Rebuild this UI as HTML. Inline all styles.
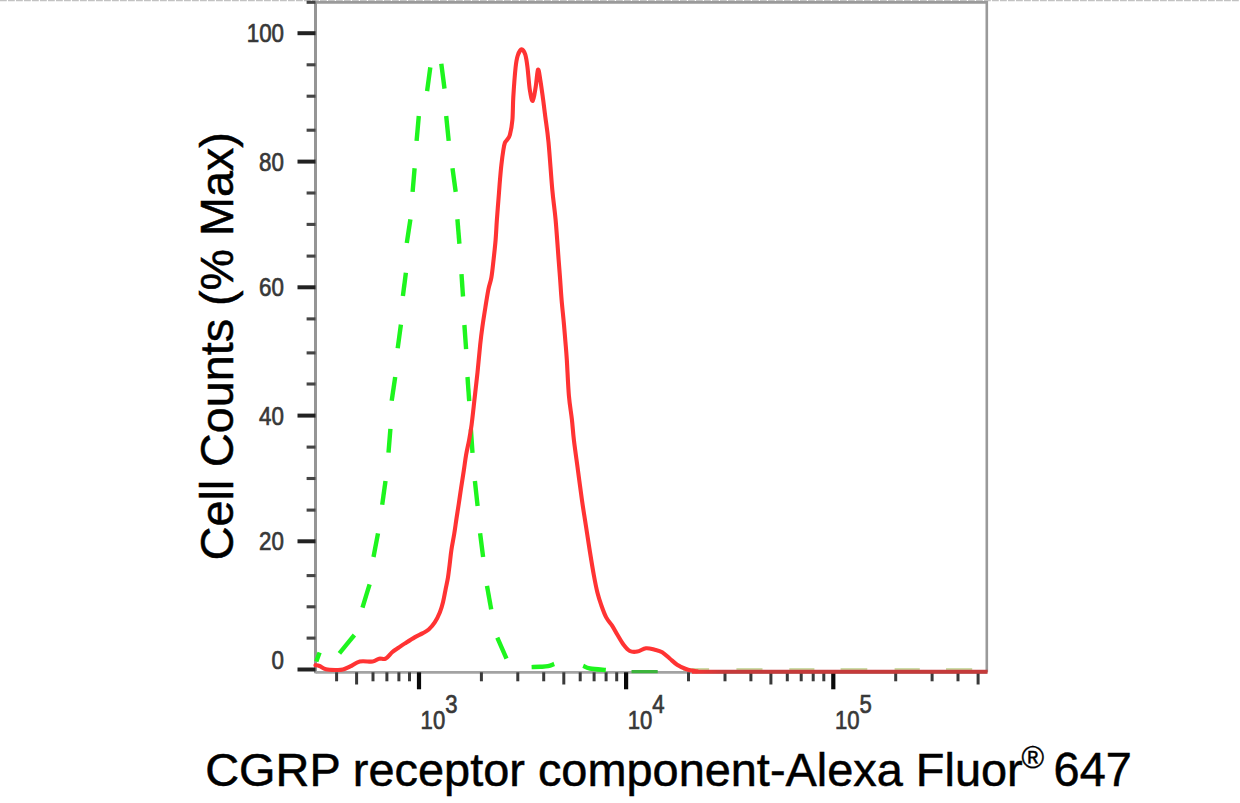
<!DOCTYPE html>
<html><head><meta charset="utf-8"><style>
html,body{margin:0;padding:0;background:#fff;}
body{width:1240px;height:803px;overflow:hidden;}
svg{display:block;}
</style></head><body>
<svg width="1240" height="803" viewBox="0 0 1240 803">
<rect width="1240" height="803" fill="#fff"/>
<line x1="0" y1="0.6" x2="1240" y2="0.6" stroke="#c2c2c2" stroke-width="1.2" stroke-dasharray="6.8 1.2"/>
<path d="M315.5 2.4 H986.8 V672.3" fill="none" stroke="#9a9a9a" stroke-width="2.6"/>
<line x1="315.5" y1="1.4" x2="315.5" y2="673.3" stroke="#959595" stroke-width="3"/>
<line x1="315.5" y1="672.3" x2="986.8" y2="672.3" stroke="#a3a3a3" stroke-width="2.8"/>
<line x1="297.5" y1="669.5" x2="315.5" y2="669.5" stroke="#222" stroke-width="4"/>
<line x1="306.6" y1="638.1" x2="315.5" y2="638.1" stroke="#454545" stroke-width="3.1"/>
<line x1="306.6" y1="606.8" x2="315.5" y2="606.8" stroke="#454545" stroke-width="3.1"/>
<line x1="306.6" y1="575.6" x2="315.5" y2="575.6" stroke="#454545" stroke-width="3.1"/>
<line x1="297.5" y1="541.3" x2="315.5" y2="541.3" stroke="#222" stroke-width="4"/>
<line x1="306.6" y1="510.1" x2="315.5" y2="510.1" stroke="#454545" stroke-width="3.1"/>
<line x1="306.6" y1="478.5" x2="315.5" y2="478.5" stroke="#454545" stroke-width="3.1"/>
<line x1="306.6" y1="447.1" x2="315.5" y2="447.1" stroke="#454545" stroke-width="3.1"/>
<line x1="297.5" y1="415.6" x2="315.5" y2="415.6" stroke="#222" stroke-width="4"/>
<line x1="306.6" y1="384.0" x2="315.5" y2="384.0" stroke="#454545" stroke-width="3.1"/>
<line x1="306.6" y1="352.9" x2="315.5" y2="352.9" stroke="#454545" stroke-width="3.1"/>
<line x1="306.6" y1="318.9" x2="315.5" y2="318.9" stroke="#454545" stroke-width="3.1"/>
<line x1="297.5" y1="287.3" x2="315.5" y2="287.3" stroke="#222" stroke-width="4"/>
<line x1="306.6" y1="256.1" x2="315.5" y2="256.1" stroke="#454545" stroke-width="3.1"/>
<line x1="306.6" y1="224.4" x2="315.5" y2="224.4" stroke="#454545" stroke-width="3.1"/>
<line x1="306.6" y1="193.0" x2="315.5" y2="193.0" stroke="#454545" stroke-width="3.1"/>
<line x1="297.5" y1="161.6" x2="315.5" y2="161.6" stroke="#222" stroke-width="4"/>
<line x1="306.6" y1="130.2" x2="315.5" y2="130.2" stroke="#454545" stroke-width="3.1"/>
<line x1="306.6" y1="96.2" x2="315.5" y2="96.2" stroke="#454545" stroke-width="3.1"/>
<line x1="306.6" y1="64.8" x2="315.5" y2="64.8" stroke="#454545" stroke-width="3.1"/>
<line x1="297.5" y1="33.2" x2="315.5" y2="33.2" stroke="#222" stroke-width="4"/>
<line x1="306.6" y1="2.3" x2="315.5" y2="2.3" stroke="#454545" stroke-width="3.1"/>
<line x1="336.6" y1="672.3" x2="336.6" y2="681.3" stroke="#3a3a3a" stroke-width="3"/>
<line x1="356.6" y1="672.3" x2="356.6" y2="684.5" stroke="#3a3a3a" stroke-width="3"/>
<line x1="373.0" y1="672.3" x2="373.0" y2="681.3" stroke="#3a3a3a" stroke-width="3"/>
<line x1="386.9" y1="672.3" x2="386.9" y2="681.3" stroke="#3a3a3a" stroke-width="3"/>
<line x1="398.9" y1="672.3" x2="398.9" y2="681.3" stroke="#3a3a3a" stroke-width="3"/>
<line x1="409.5" y1="672.3" x2="409.5" y2="681.3" stroke="#3a3a3a" stroke-width="3"/>
<line x1="419.0" y1="672.3" x2="419.0" y2="689.3" stroke="#0a0a0a" stroke-width="4.2"/>
<line x1="481.4" y1="672.3" x2="481.4" y2="681.3" stroke="#3a3a3a" stroke-width="3"/>
<line x1="517.8" y1="672.3" x2="517.8" y2="681.3" stroke="#3a3a3a" stroke-width="3"/>
<line x1="543.7" y1="672.3" x2="543.7" y2="681.3" stroke="#3a3a3a" stroke-width="3"/>
<line x1="563.8" y1="672.3" x2="563.8" y2="684.5" stroke="#3a3a3a" stroke-width="3"/>
<line x1="580.2" y1="672.3" x2="580.2" y2="681.3" stroke="#3a3a3a" stroke-width="3"/>
<line x1="594.1" y1="672.3" x2="594.1" y2="681.3" stroke="#3a3a3a" stroke-width="3"/>
<line x1="606.1" y1="672.3" x2="606.1" y2="681.3" stroke="#3a3a3a" stroke-width="3"/>
<line x1="616.7" y1="672.3" x2="616.7" y2="681.3" stroke="#3a3a3a" stroke-width="3"/>
<line x1="626.1" y1="672.3" x2="626.1" y2="689.3" stroke="#0a0a0a" stroke-width="4.2"/>
<line x1="688.5" y1="672.3" x2="688.5" y2="681.3" stroke="#3a3a3a" stroke-width="3"/>
<line x1="725.0" y1="672.3" x2="725.0" y2="681.3" stroke="#3a3a3a" stroke-width="3"/>
<line x1="750.9" y1="672.3" x2="750.9" y2="681.3" stroke="#3a3a3a" stroke-width="3"/>
<line x1="770.9" y1="672.3" x2="770.9" y2="684.5" stroke="#3a3a3a" stroke-width="3"/>
<line x1="787.3" y1="672.3" x2="787.3" y2="681.3" stroke="#3a3a3a" stroke-width="3"/>
<line x1="801.2" y1="672.3" x2="801.2" y2="681.3" stroke="#3a3a3a" stroke-width="3"/>
<line x1="813.2" y1="672.3" x2="813.2" y2="681.3" stroke="#3a3a3a" stroke-width="3"/>
<line x1="823.8" y1="672.3" x2="823.8" y2="681.3" stroke="#3a3a3a" stroke-width="3"/>
<line x1="833.3" y1="672.3" x2="833.3" y2="689.3" stroke="#0a0a0a" stroke-width="4.2"/>
<line x1="895.7" y1="672.3" x2="895.7" y2="681.3" stroke="#3a3a3a" stroke-width="3"/>
<line x1="932.1" y1="672.3" x2="932.1" y2="681.3" stroke="#3a3a3a" stroke-width="3"/>
<line x1="958.0" y1="672.3" x2="958.0" y2="681.3" stroke="#3a3a3a" stroke-width="3"/>
<line x1="978.1" y1="672.3" x2="978.1" y2="684.5" stroke="#3a3a3a" stroke-width="3"/>
<text x="284" y="668.7" text-anchor="end" font-size="26" font-family="Liberation Sans, sans-serif" fill="#383838" stroke="#383838" stroke-width="0.7" transform="translate(284 0) scale(0.86 1) translate(-284 0)">0</text>
<text x="284" y="550.5" text-anchor="end" font-size="26" font-family="Liberation Sans, sans-serif" fill="#383838" stroke="#383838" stroke-width="0.7" transform="translate(284 0) scale(0.86 1) translate(-284 0)">20</text>
<text x="284" y="424.8" text-anchor="end" font-size="26" font-family="Liberation Sans, sans-serif" fill="#383838" stroke="#383838" stroke-width="0.7" transform="translate(284 0) scale(0.86 1) translate(-284 0)">40</text>
<text x="284" y="296.5" text-anchor="end" font-size="26" font-family="Liberation Sans, sans-serif" fill="#383838" stroke="#383838" stroke-width="0.7" transform="translate(284 0) scale(0.86 1) translate(-284 0)">60</text>
<text x="284" y="170.8" text-anchor="end" font-size="26" font-family="Liberation Sans, sans-serif" fill="#383838" stroke="#383838" stroke-width="0.7" transform="translate(284 0) scale(0.86 1) translate(-284 0)">80</text>
<text x="284" y="42.4" text-anchor="end" font-size="26" font-family="Liberation Sans, sans-serif" fill="#383838" stroke="#383838" stroke-width="0.7" transform="translate(284 0) scale(0.86 1) translate(-284 0)">100</text>
<text x="420.6" y="728.6" font-size="26" font-family="Liberation Sans, sans-serif" fill="#383838" stroke="#383838" stroke-width="0.7" transform="translate(420.6 0) scale(0.85 1) translate(-420.6 0)">10<tspan dy="-15.8">3</tspan></text>
<text x="627.8" y="728.6" font-size="26" font-family="Liberation Sans, sans-serif" fill="#383838" stroke="#383838" stroke-width="0.7" transform="translate(627.8 0) scale(0.85 1) translate(-627.8 0)">10<tspan dy="-15.8">4</tspan></text>
<text x="834.9" y="728.6" font-size="26" font-family="Liberation Sans, sans-serif" fill="#383838" stroke="#383838" stroke-width="0.7" transform="translate(834.9 0) scale(0.85 1) translate(-834.9 0)">10<tspan dy="-15.8">5</tspan></text>
<text x="0" y="0" font-size="46.7" font-family="Liberation Sans, sans-serif" fill="#000" stroke="#000" stroke-width="0.5" transform="translate(232.6 560.3) rotate(-90)">Cell Counts (% Max)</text>
<text x="205.2" y="786" font-size="46.9" font-family="Liberation Sans, sans-serif" fill="#000" stroke="#000" stroke-width="0.5">CGRP receptor component-Alexa Fluor</text>
<text x="1021.5" y="768.4" font-size="30.7" font-family="Liberation Sans, sans-serif" fill="#000" stroke="#000" stroke-width="0.35">®</text>
<text x="1053.6" y="786" font-size="46.9" font-family="Liberation Sans, sans-serif" fill="#000" stroke="#000" stroke-width="0.5" transform="translate(0 786) scale(1 1.04) translate(0 -786)">647</text>
<path d="M316.30 661.50 C316.85 660.00 319.05 654.00 319.60 652.50" fill="none" stroke="#1ef51e" stroke-width="4.4" stroke-linecap="butt" stroke-linejoin="round"/>
<path d="M339.40 653.40 C341.90 650.33 351.90 638.07 354.40 635.00" fill="none" stroke="#1ef51e" stroke-width="4.4" stroke-linecap="butt" stroke-linejoin="round"/>
<path d="M362.50 607.60 C363.68 603.72 368.42 588.18 369.60 584.30" fill="none" stroke="#1ef51e" stroke-width="4.4" stroke-linecap="butt" stroke-linejoin="round"/>
<path d="M373.50 557.00 C374.25 553.05 377.25 537.25 378.00 533.30" fill="none" stroke="#1ef51e" stroke-width="4.4" stroke-linecap="butt" stroke-linejoin="round"/>
<path d="M382.20 504.70 C382.75 500.75 384.95 484.95 385.50 481.00" fill="none" stroke="#1ef51e" stroke-width="4.4" stroke-linecap="butt" stroke-linejoin="round"/>
<path d="M388.50 452.60 C388.82 448.65 390.08 432.85 390.40 428.90" fill="none" stroke="#1ef51e" stroke-width="4.4" stroke-linecap="butt" stroke-linejoin="round"/>
<path d="M391.70 400.80 C392.28 396.83 394.62 380.97 395.20 377.00" fill="none" stroke="#1ef51e" stroke-width="4.4" stroke-linecap="butt" stroke-linejoin="round"/>
<path d="M397.70 348.30 C398.23 344.35 400.37 328.55 400.90 324.60" fill="none" stroke="#1ef51e" stroke-width="4.4" stroke-linecap="butt" stroke-linejoin="round"/>
<path d="M402.90 296.00 C403.40 292.13 405.40 276.67 405.90 272.80" fill="none" stroke="#1ef51e" stroke-width="4.4" stroke-linecap="butt" stroke-linejoin="round"/>
<path d="M406.80 243.00 C407.40 239.05 409.80 223.25 410.40 219.30" fill="none" stroke="#1ef51e" stroke-width="4.4" stroke-linecap="butt" stroke-linejoin="round"/>
<path d="M412.60 191.90 C412.93 187.97 414.27 172.23 414.60 168.30" fill="none" stroke="#1ef51e" stroke-width="4.4" stroke-linecap="butt" stroke-linejoin="round"/>
<path d="M416.60 140.90 C416.97 136.75 418.43 120.15 418.80 116.00" fill="none" stroke="#1ef51e" stroke-width="4.4" stroke-linecap="butt" stroke-linejoin="round"/>
<path d="M427.10 91.10 C427.63 87.15 429.77 71.35 430.30 67.40" fill="none" stroke="#1ef51e" stroke-width="4.4" stroke-linecap="butt" stroke-linejoin="round"/>
<path d="M441.30 63.70 C441.83 67.85 443.97 84.45 444.50 88.60" fill="none" stroke="#1ef51e" stroke-width="4.4" stroke-linecap="butt" stroke-linejoin="round"/>
<path d="M446.20 116.00 C446.62 120.15 448.28 136.75 448.70 140.90" fill="none" stroke="#1ef51e" stroke-width="4.4" stroke-linecap="butt" stroke-linejoin="round"/>
<path d="M452.50 168.30 C453.03 172.23 455.17 187.97 455.70 191.90" fill="none" stroke="#1ef51e" stroke-width="4.4" stroke-linecap="butt" stroke-linejoin="round"/>
<path d="M457.40 219.30 C457.73 223.37 459.07 239.63 459.40 243.70" fill="none" stroke="#1ef51e" stroke-width="4.4" stroke-linecap="butt" stroke-linejoin="round"/>
<path d="M461.50 274.20 C461.75 277.92 462.75 292.78 463.00 296.50" fill="none" stroke="#1ef51e" stroke-width="4.4" stroke-linecap="butt" stroke-linejoin="round"/>
<path d="M464.40 325.00 C464.68 329.02 465.82 345.08 466.10 349.10" fill="none" stroke="#1ef51e" stroke-width="4.4" stroke-linecap="butt" stroke-linejoin="round"/>
<path d="M467.50 377.00 C467.78 381.03 468.92 397.17 469.20 401.20" fill="none" stroke="#1ef51e" stroke-width="4.4" stroke-linecap="butt" stroke-linejoin="round"/>
<path d="M470.90 429.40 C471.17 433.30 472.23 448.90 472.50 452.80" fill="none" stroke="#1ef51e" stroke-width="4.4" stroke-linecap="butt" stroke-linejoin="round"/>
<path d="M474.90 481.00 C475.35 485.15 477.15 501.75 477.60 505.90" fill="none" stroke="#1ef51e" stroke-width="4.4" stroke-linecap="butt" stroke-linejoin="round"/>
<path d="M480.10 533.30 C480.60 537.25 482.60 553.05 483.10 557.00" fill="none" stroke="#1ef51e" stroke-width="4.4" stroke-linecap="butt" stroke-linejoin="round"/>
<path d="M487.00 585.80 C487.70 589.72 490.50 605.38 491.20 609.30" fill="none" stroke="#1ef51e" stroke-width="4.4" stroke-linecap="butt" stroke-linejoin="round"/>
<path d="M497.30 637.60 C498.83 641.12 504.97 655.18 506.50 658.70" fill="none" stroke="#1ef51e" stroke-width="4.4" stroke-linecap="butt" stroke-linejoin="round"/>
<path d="M531.60 667.10 C533.00 667.05 537.27 666.95 540.00 666.80 C542.73 666.65 545.63 666.68 548.00 666.20 C550.37 665.72 553.17 664.28 554.20 663.90" fill="none" stroke="#1ef51e" stroke-width="4.4" stroke-linecap="butt" stroke-linejoin="round"/>
<path d="M583.20 665.80 C584.33 666.25 586.23 667.80 590.00 668.50 C593.77 669.20 603.17 669.75 605.80 670.00" fill="none" stroke="#1ef51e" stroke-width="4.4" stroke-linecap="butt" stroke-linejoin="round"/>
<line x1="631.5" y1="671.6" x2="657.7" y2="671.6" stroke="#3cb43c" stroke-width="3.2"/>
<line x1="683" y1="669.4" x2="709.1" y2="669.4" stroke="#c8d8a0" stroke-width="2.6"/>
<line x1="736.4" y1="669.4" x2="762.5" y2="669.4" stroke="#c8d8a0" stroke-width="2.6"/>
<line x1="789.3" y1="669.4" x2="814.4" y2="669.4" stroke="#c8d8a0" stroke-width="2.6"/>
<line x1="840.6" y1="669.4" x2="867.3" y2="669.4" stroke="#c8d8a0" stroke-width="2.6"/>
<line x1="894.6" y1="669.4" x2="919.8" y2="669.4" stroke="#c8d8a0" stroke-width="2.6"/>
<line x1="946" y1="669.4" x2="972.2" y2="669.4" stroke="#c8d8a0" stroke-width="2.6"/>
<path d="M315.50 665.20 C316.17 665.33 317.75 665.33 319.50 666.00 C321.25 666.67 323.32 668.53 326.00 669.20 C328.68 669.87 332.78 669.93 335.60 670.00 C338.42 670.07 340.47 670.20 342.90 669.60 C345.33 669.00 347.38 667.75 350.20 666.40 C353.02 665.05 356.05 662.32 359.80 661.50 C363.55 660.68 369.47 661.97 372.70 661.50 C375.93 661.03 377.05 659.17 379.20 658.70 C381.35 658.23 383.45 659.77 385.60 658.70 C387.75 657.63 389.95 654.12 392.10 652.30 C394.25 650.48 396.35 649.28 398.50 647.80 C400.65 646.32 402.25 645.18 405.00 643.40 C407.75 641.62 412.10 638.77 415.00 637.10 C417.90 635.43 420.12 634.65 422.40 633.40 C424.68 632.15 426.62 631.47 428.70 629.60 C430.78 627.73 433.03 625.10 434.90 622.20 C436.77 619.30 438.55 615.53 439.90 612.20 C441.25 608.87 442.07 605.93 443.00 602.20 C443.93 598.47 444.67 593.95 445.50 589.80 C446.33 585.65 447.32 581.45 448.00 577.30 C448.68 573.15 449.03 569.45 449.60 564.90 C450.17 560.35 450.63 555.15 451.40 550.00 C452.17 544.85 453.37 539.15 454.20 534.00 C455.03 528.85 455.65 524.07 456.40 519.10 C457.15 514.13 457.95 509.17 458.70 504.20 C459.45 499.23 460.03 495.02 460.90 489.30 C461.77 483.58 463.03 475.63 463.90 469.90 C464.77 464.17 465.23 459.88 466.10 454.90 C466.97 449.92 468.18 445.03 469.10 440.00 C470.02 434.97 470.70 431.48 471.60 424.70 C472.50 417.92 473.52 408.02 474.50 399.30 C475.48 390.58 476.55 381.52 477.50 372.40 C478.45 363.28 479.38 352.22 480.20 344.60 C481.02 336.98 481.53 332.93 482.40 326.70 C483.27 320.47 484.40 313.43 485.40 307.20 C486.40 300.97 487.40 294.27 488.40 289.30 C489.40 284.33 490.53 282.38 491.40 277.40 C492.27 272.42 492.90 265.63 493.60 259.40 C494.30 253.17 495.05 246.62 495.60 240.00 C496.15 233.38 496.35 227.40 496.90 219.70 C497.45 212.00 498.38 200.48 498.90 193.80 C499.42 187.12 499.58 184.45 500.00 179.60 C500.42 174.75 500.83 169.67 501.40 164.70 C501.97 159.73 502.82 153.45 503.40 149.80 C503.98 146.15 504.27 144.50 504.90 142.80 C505.53 141.10 506.37 140.93 507.20 139.60 C508.03 138.27 509.03 138.08 509.90 134.80 C510.77 131.52 511.83 126.17 512.40 119.90 C512.97 113.63 512.77 105.95 513.30 97.20 C513.83 88.45 514.85 74.37 515.60 67.40 C516.35 60.43 516.80 58.40 517.80 55.40 C518.80 52.40 520.35 49.52 521.60 49.40 C522.85 49.28 524.32 51.70 525.30 54.70 C526.28 57.70 526.75 61.55 527.50 67.40 C528.25 73.25 528.92 84.20 529.80 89.80 C530.68 95.40 531.82 101.50 532.80 101.00 C533.78 100.50 534.83 92.03 535.70 86.80 C536.57 81.57 537.25 70.85 538.00 69.60 C538.75 68.35 539.40 74.70 540.20 79.30 C541.00 83.90 541.95 90.97 542.80 97.20 C543.65 103.43 544.35 109.22 545.30 116.70 C546.25 124.18 547.33 129.92 548.50 142.10 C549.67 154.28 551.12 176.87 552.30 189.80 C553.48 202.73 554.55 208.10 555.60 219.70 C556.65 231.30 557.85 249.53 558.60 259.40 C559.35 269.27 559.60 272.17 560.10 278.90 C560.60 285.63 560.97 292.33 561.60 299.80 C562.23 307.27 563.27 316.73 563.90 323.70 C564.53 330.67 564.92 335.63 565.40 341.60 C565.88 347.57 566.22 350.50 566.80 359.50 C567.38 368.50 568.05 385.60 568.90 395.60 C569.75 405.60 571.07 412.10 571.90 419.50 C572.73 426.90 572.90 431.60 573.90 440.00 C574.90 448.40 576.57 459.93 577.90 469.90 C579.23 479.87 580.57 490.50 581.90 499.80 C583.23 509.10 584.57 517.07 585.90 525.70 C587.23 534.33 588.57 543.30 589.90 551.60 C591.23 559.90 592.65 568.68 593.90 575.50 C595.15 582.32 596.18 587.60 597.40 592.50 C598.62 597.40 599.73 600.75 601.20 604.90 C602.67 609.05 604.33 613.87 606.20 617.40 C608.07 620.93 610.53 623.20 612.40 626.10 C614.27 629.00 615.53 631.68 617.40 634.80 C619.27 637.92 621.53 642.10 623.60 644.80 C625.67 647.50 627.52 649.87 629.80 651.00 C632.08 652.13 634.60 652.05 637.30 651.60 C640.00 651.15 643.10 648.62 646.00 648.30 C648.90 647.98 652.00 649.05 654.70 649.70 C657.40 650.35 659.70 650.73 662.20 652.20 C664.70 653.67 667.22 656.42 669.70 658.50 C672.18 660.58 674.40 662.95 677.10 664.70 C679.80 666.45 683.40 668.02 685.90 669.00 C688.40 669.98 690.25 670.22 692.10 670.60 C693.95 670.98 696.18 671.18 697.00 671.30" fill="none" stroke="#ff3333" stroke-width="4.1" stroke-linejoin="round" stroke-linecap="round"/>
<defs><linearGradient id="zg" gradientUnits="userSpaceOnUse" x1="690" y1="0" x2="725" y2="0"><stop offset="0" stop-color="#ff3333"/><stop offset="1" stop-color="#c53a3a"/></linearGradient></defs>
<line x1="692" y1="671.7" x2="987.5999999999999" y2="671.7" stroke="url(#zg)" stroke-width="4"/>
</svg>
</body></html>
